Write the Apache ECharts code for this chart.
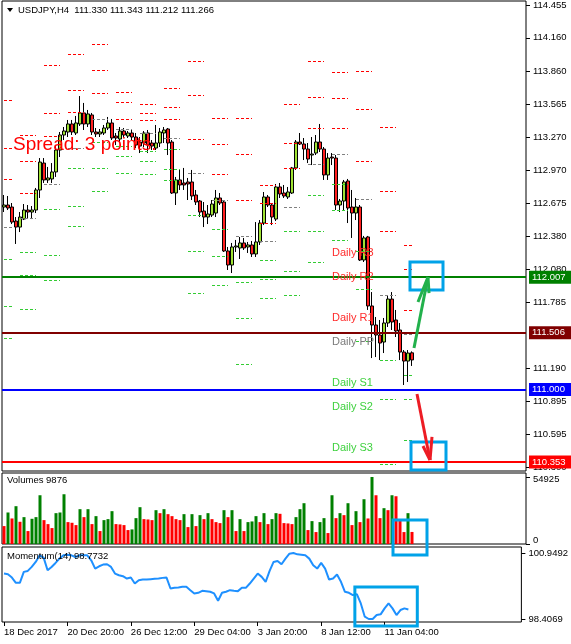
<!DOCTYPE html>
<html><head><meta charset="utf-8">
<script src="https://cdn.jsdelivr.net/npm/echarts@6/dist/echarts.min.js"></script>
<style>html,body{margin:0;padding:0;background:#fff}#c{width:571px;height:644px}</style>
</head><body><div id="c"></div><script>
// ---------------- DATA ----------------
const symbolTitle = 'USDJPY,H4';
const tickLabels = ['18 Dec 2017','20 Dec 20:00','26 Dec 12:00','29 Dec 04:00','3 Jan 20:00','8 Jan 12:00','11 Jan 04:00'];
const tickStep = 16;
const opens = [112.640,112.658,112.640,112.514,112.460,112.532,112.613,112.595,112.613,112.793,
113.035,112.883,112.892,112.955,113.152,113.287,113.314,113.386,113.305,113.386,
113.485,113.386,113.467,113.314,113.296,113.305,113.350,113.395,113.278,113.251,
113.323,113.278,113.305,113.269,113.224,113.215,113.305,113.215,113.170,113.215,
113.305,113.341,113.224,112.766,112.883,112.856,112.865,112.865,112.748,112.694,
112.604,112.550,112.568,112.586,112.721,112.685,112.245,112.119,112.281,112.272,
112.317,112.281,112.299,112.218,112.326,112.496,112.730,112.658,112.532,112.820,
112.766,112.730,112.766,112.991,113.224,113.206,113.161,113.107,113.125,113.224,
113.161,112.928,113.089,113.080,112.658,112.694,112.874,112.640,112.586,112.640,
112.164,112.371,111.751,111.580,111.490,111.427,111.598,111.813,111.625,111.535,
111.337,111.256,111.330];
const closes = [112.658,112.631,112.505,112.460,112.550,112.613,112.595,112.613,112.793,113.044,
112.883,112.901,112.955,113.152,113.287,113.323,113.386,113.314,113.395,113.485,
113.386,113.476,113.314,113.296,113.314,113.350,113.395,113.260,113.260,113.323,
113.287,113.305,113.269,113.197,113.188,113.305,113.197,113.188,113.215,113.314,
113.332,113.215,112.766,112.883,112.838,112.838,112.847,112.739,112.685,112.595,
112.550,112.577,112.667,112.721,112.676,112.245,112.119,112.281,112.290,112.317,
112.272,112.299,112.218,112.326,112.496,112.730,112.658,112.550,112.820,112.757,
112.739,112.775,112.991,113.224,113.206,113.161,113.071,113.116,113.224,113.161,
112.928,113.080,113.080,112.658,112.694,112.865,112.631,112.586,112.640,112.164,
112.362,111.751,111.580,111.490,111.418,111.598,111.813,111.607,111.526,111.337,
111.256,111.328,111.266];
const lows = [112.595,112.613,112.487,112.308,112.415,112.523,112.541,112.532,112.586,112.721,
112.856,112.856,112.856,112.910,113.089,113.242,113.269,113.287,113.287,113.368,
113.332,113.359,113.287,113.269,113.269,113.287,113.332,113.242,113.197,113.215,
113.269,113.260,113.242,113.170,113.125,113.179,113.125,113.152,113.152,113.179,
113.215,113.107,112.757,112.658,112.793,112.793,112.703,112.703,112.658,112.550,
112.460,112.487,112.550,112.550,112.658,112.236,112.074,112.047,112.236,112.173,
112.254,112.227,112.191,112.191,112.299,112.478,112.640,112.478,112.514,112.721,
112.721,112.712,112.757,112.973,113.197,113.062,113.035,113.017,113.107,113.134,
112.883,112.883,113.017,112.613,112.595,112.613,112.496,112.362,112.523,112.155,
112.146,111.715,111.283,111.292,111.265,111.328,111.562,111.535,111.472,111.265,
111.041,111.068,111.212];
const highs = [112.748,112.739,112.676,112.550,112.595,112.667,112.658,112.649,112.811,113.080,
113.080,113.000,113.035,113.197,113.314,113.359,113.422,113.422,113.458,113.637,
113.575,113.512,113.485,113.350,113.341,113.377,113.449,113.431,113.305,113.359,
113.350,113.323,113.332,113.305,113.269,113.323,113.332,113.242,113.377,113.350,
113.359,113.350,113.242,112.910,112.973,112.991,112.901,112.973,112.793,112.703,
112.685,112.658,112.703,112.793,112.766,112.703,112.281,112.317,112.344,112.371,
112.362,112.326,112.335,112.505,112.523,112.775,112.748,112.676,112.847,112.856,
112.838,112.820,113.000,113.242,113.305,113.260,113.215,113.269,113.287,113.386,
113.179,113.125,113.125,113.107,112.712,112.883,112.892,112.793,112.721,112.658,
112.380,112.380,111.876,111.652,111.625,111.643,111.849,111.876,111.715,111.598,
111.355,111.355,111.343];
const volumes = [14683,25831,20936,30997,18217,22024,10604,20664,22024,39969,
19577,16314,13051,25287,25831,40785,17945,17402,15498,28550,
22024,28550,16314,22840,10604,19577,20393,26918,16314,16042,
15498,11420,11964,21208,30181,20393,20121,19577,27734,25287,
28550,24471,22840,20393,19577,24471,13867,24471,14683,23655,
20393,25287,20393,17945,17130,27734,22024,27734,10604,20393,
10604,17945,18489,22840,17945,25287,16314,20393,25287,24743,
17130,16858,16314,22024,28550,33444,11420,18761,9788,17945,
21208,8973,39969,21208,25287,23655,33444,15498,26918,17945,
36707,20936,54925,39969,21208,29365,27734,39969,39154,20121,
9788,25287,9876];
const momentum = [100.157,100.132,100.004,99.799,99.799,100.221,100.259,100.413,100.604,100.860,
100.770,100.285,100.413,100.566,100.732,100.860,100.885,100.860,100.796,100.860,
100.860,100.860,100.668,100.349,100.438,100.502,100.515,100.413,100.157,100.093,
100.055,99.966,100.004,99.774,99.902,99.927,99.927,99.940,99.953,99.966,
99.991,100.004,99.582,99.608,99.621,99.646,99.646,99.518,99.391,99.416,
99.493,99.480,99.455,99.391,99.110,99.416,99.455,99.518,99.493,99.480,
99.608,99.608,99.774,99.966,100.157,100.029,99.838,100.259,100.604,100.643,
100.515,100.732,100.924,100.949,100.898,100.885,100.860,100.732,100.477,100.349,
100.566,100.349,99.927,99.966,100.119,99.838,99.455,99.416,99.327,99.365,
99.007,98.496,98.407,98.407,98.560,98.586,98.816,99.007,98.816,98.560,
98.752,98.816,98.7732];
const priceTicks = [114.455,114.160,113.860,113.565,113.270,112.970,112.675,112.380,112.080,111.785,111.190,110.895,110.595,110.300];
const volumeTicks = [54925, 0];
const momentumTicks = [100.9492, 98.4069];
// daily pivot levels, one value per day (first entry = day before the first full day)
const pivR3 = [113.602,113.287,113.916,114.015,114.105,113.673,113.566,113.709,113.952,113.440,113.440,112.838,113.566,113.952,113.853,113.862,113.359,112.299];
const pivR2 = [113.170,113.053,113.485,113.691,113.871,113.584,113.485,113.539,113.646,113.206,113.116,112.676,113.215,113.628,113.619,113.521,112.784,112.083];
const pivR1 = [112.892,112.766,113.278,113.494,113.664,113.431,113.422,113.431,113.251,112.937,112.703,112.496,112.991,113.350,113.350,113.053,112.424,111.715];
const pivPP = [112.460,112.541,112.847,113.170,113.431,113.341,113.305,113.260,112.946,112.703,112.380,112.335,112.640,113.026,113.116,112.712,111.849,111.499];
const pivS1 = [112.173,112.236,112.622,112.991,113.224,113.188,113.143,113.161,112.568,112.442,111.966,112.164,112.424,112.748,112.847,112.245,111.265,111.131];
const pivS2 = [111.751,112.029,112.209,112.649,112.991,113.098,113.053,112.982,112.245,112.200,111.643,111.993,112.065,112.424,112.613,111.903,110.915,110.915];
const pivS3 = [111.463,111.724,111.984,112.469,112.784,112.946,112.937,112.883,111.867,111.939,111.229,111.822,111.849,112.146,112.344,111.436,110.331,110.547];
const pivotNames = ['Daily R3','Daily R2','Daily R1','Daily PP','Daily S1','Daily S2','Daily S3'];
const levelLines = [112.007, 111.506, 111.000, 110.353];
const spreadText = 'Spread: 3 points.';
// annotation anchors (bar index, value)
const boxes = [
  {grid:0, x0:101.5, x1:109.75, y0:112.146, y1:111.894},
  {grid:0, x0:101.75, x1:110.5, y0:110.529, y1:110.277},
  {grid:1, x0:97.25, x1:105.75, y0:19675, y1:-9018},
  {grid:2, x0:88.5, x1:104.25, y0:99.6395, y1:98.1372}
];
const arrows = [
  {tail:[102.5,111.373], head:[106,112.011], barbs:[[103.5,111.787],[106.25,111.867]], color:'#22b14c'},
  {tail:[103.25,110.960], head:[106.5,110.367], barbs:[[104.75,110.493],[107,110.574]], color:'#ed1c24'}
];

// ---------------- STYLE / LAYOUT ----------------
const FONT = '"Liberation Sans", Arial, sans-serif';
const FS = 9.5;
const SLOTS = 131;
const priceMin = 110.2682, priceMax = 114.4909;
const volMax = 58204;
const momMin = 98.2913, momMax = 101.1803;
const pivotFirstBar = -2, barsPerDay = 6, pivotLen = 4, pivotLabelBar = 82;
const pivotColors = ['#ff0000','#ff0000','#ff0000','#808080','#33cc33','#33cc33','#33cc33'];
const pivotTextColors = ['#ff2b2b','#ff2b2b','#ff2b2b','#7a7a7a','#3fd13f','#3fd13f','#3fd13f'];
const levelColors = ['#008000','#800000','#0000ff','#ff0000'];
const boxColor = '#00a2e8';

const lastBar = opens.length - 1;
const cats = Array.from({length: SLOTS}, (_, i) => String(i));
const pivotLevels = [pivR3, pivR2, pivR1, pivPP, pivS1, pivS2, pivS3];
const pivotData = [];
pivotLevels.forEach((arr, l) => arr.forEach((v, k) => {
  const start = pivotFirstBar + k * barsPerDay;
  const s = Math.max(0, start), e = Math.min(start + pivotLen, lastBar);
  if (e > s) pivotData.push([s, e, v, l]);
}));
const pivotLabelData = pivotLevels.map((arr, l) => [pivotLabelBar, arr[arr.length - 1], l]);

const chart = echarts.init(document.getElementById('c'), null, {renderer: 'canvas'});

function xAxisFor(g) {
  return {
    type: 'category', gridIndex: g, data: cats, boundaryGap: true, show: g === 2,
    axisLine: {show: false}, splitLine: {show: false},
    axisTick: {show: g === 2, alignWithLabel: true, length: 4, lineStyle: {color: '#000'},
      interval: (i) => i % tickStep === 0 && i / tickStep < tickLabels.length},
    axisLabel: {show: g === 2, align: 'left', margin: 5, color: '#000', fontSize: FS, fontFamily: FONT,
      interval: (i) => i % tickStep === 0 && i / tickStep < tickLabels.length,
      formatter: (v, i) => tickLabels[i / tickStep] || ''}
  };
}
function yAxisFor(g, min, max, ticks, fmt, extra) {
  return Object.assign({
    type: 'value', gridIndex: g, position: 'right', min, max,
    axisLine: {show: false}, splitLine: {show: false},
    axisTick: {show: true, customValues: ticks, length: 4, lineStyle: {color: '#000'}},
    axisLabel: {customValues: ticks, formatter: fmt, color: '#000', fontSize: FS, fontFamily: FONT, margin: 7}
  }, extra || {});
}

const volYAxis = yAxisFor(1, 0, volMax, volumeTicks, (v) => v === 0 ? '{z|0}' : String(v));
volYAxis.axisLabel.rich = {z: {padding: [0, 0, 12, 0], fontSize: FS, fontFamily: FONT, color: '#000'}};
volYAxis.axisLabel.padding = [4, 0, 0, 0];

const markData = levelLines.map((v, i) => ({
  yAxis: v,
  lineStyle: {color: levelColors[i], width: 2, type: 'solid'},
  label: {show: true, position: 'end', distance: 3, formatter: () => v.toFixed(3),
    backgroundColor: levelColors[i], color: '#fff', padding: [2, 7, 1, 3], fontSize: FS, fontFamily: FONT}
}));
markData.push({
  yAxis: closes[lastBar],
  lineStyle: {opacity: 0, width: 0},
  label: {show: true, position: 'end', distance: 3, formatter: () => closes[lastBar].toFixed(3),
    backgroundColor: '#000', color: '#fff', padding: [2, 7, 1, 3], fontSize: FS, fontFamily: FONT}
});

const option = {
  animation: false,
  backgroundColor: '#fff',
  textStyle: {fontFamily: FONT},
  grid: [
    {left: 2, top: 1, width: 524, height: 470, show: true, borderColor: '#000', borderWidth: 1},
    {left: 2, top: 473, width: 524, height: 71, show: true, borderColor: '#000', borderWidth: 1},
    {left: 2, top: 547, width: 524, height: 75, show: true, borderColor: '#000', borderWidth: 1}
  ],
  xAxis: [xAxisFor(0), xAxisFor(1), xAxisFor(2)],
  yAxis: [
    yAxisFor(0, priceMin, priceMax, priceTicks, (v) => v.toFixed(3)),
    volYAxis,
    yAxisFor(2, momMin, momMax, momentumTicks, (v) => v.toFixed(4))
  ],
  series: [
    {
      type: 'candlestick', xAxisIndex: 0, yAxisIndex: 0, barWidth: 3, z: 2,
      data: opens.map((o, i) => [o, closes[i], lows[i], highs[i]]),
      itemStyle: {color: '#9fe234', color0: '#ff1f1f', borderColor: '#000', borderColor0: '#000', borderWidth: 1},
      markLine: {silent: true, symbol: ['none', 'none'], animation: false, z: 4, data: markData}
    },
    {
      type: 'custom', xAxisIndex: 0, yAxisIndex: 0, z: 3, silent: true, clip: true,
      data: pivotData, encode: {x: 0, y: 2},
      renderItem: (params, api) => {
        const v = api.value(2), l = api.value(3);
        const p1 = api.coord([api.value(0), v]);
        const p2 = api.coord([api.value(1), v]);
        const y = Math.round(p1[1]) + 0.5;
        return {type: 'line', shape: {x1: Math.round(p1[0]), y1: y, x2: Math.round(p2[0]), y2: y},
          style: {stroke: pivotColors[l], lineWidth: 1, lineDash: [3, 2]}};
      }
    },
    {
      type: 'custom', xAxisIndex: 0, yAxisIndex: 0, z: 6, silent: true,
      data: pivotLabelData, encode: {x: 0, y: 1},
      renderItem: (params, api) => {
        const p = api.coord([api.value(0), api.value(1)]);
        const l = api.value(2);
        return {type: 'text', x: Math.round(p[0]), y: Math.round(p[1]) + 2,
          style: {text: pivotNames[l], fill: pivotTextColors[l], font: '11px ' + FONT, verticalAlign: 'top', align: 'left'}};
      }
    },
    {
      type: 'bar', xAxisIndex: 1, yAxisIndex: 1, barWidth: 3,
      data: volumes.map((v, i) => ({value: v, itemStyle: {color: (i > 0 && v > volumes[i - 1]) ? '#008000' : '#ff0000'}}))
    },
    {
      type: 'line', xAxisIndex: 2, yAxisIndex: 2, data: momentum, showSymbol: false, symbol: 'none',
      lineStyle: {color: '#1e90ff', width: 2}
    }
  ]
};
chart.setOption(option);

function px(gridIndex, xi, val) {
  const i0 = Math.floor(xi), f = xi - i0;
  const a = chart.convertToPixel({gridIndex: gridIndex}, [i0, val]);
  const b = chart.convertToPixel({gridIndex: gridIndex}, [i0 + 1, val]);
  return [a[0] + (b[0] - a[0]) * f, a[1]];
}
const g = [];
boxes.forEach(b => {
  const p0 = px(b.grid, b.x0, b.y0), p1 = px(b.grid, b.x1, b.y1);
  g.push({type: 'rect', z: 100, shape: {x: p0[0], y: p0[1], width: p1[0] - p0[0], height: p1[1] - p0[1]},
    style: {fill: 'none', stroke: boxColor, lineWidth: 3}});
});
arrows.forEach(a => {
  const t = px(0, a.tail[0], a.tail[1]), h = px(0, a.head[0], a.head[1]);
  g.push({type: 'polyline', z: 100, shape: {points: [t, h]}, style: {stroke: a.color, lineWidth: 3, fill: 'none'}});
  a.barbs.forEach(bb => {
    const q = px(0, bb[0], bb[1]);
    g.push({type: 'polyline', z: 100, shape: {points: [q, h]}, style: {stroke: a.color, lineWidth: 3, fill: 'none'}});
  });
});
// header, indicator titles and spread note
g.push({type: 'polygon', z: 100, shape: {points: [[7, 8], [13, 8], [10, 12]]}, style: {fill: '#000'}});
g.push({type: 'text', z: 100, x: 18, y: 10, style: {text: symbolTitle + '  ' + [opens[lastBar], highs[lastBar], lows[lastBar], closes[lastBar]].map(v => v.toFixed(3)).join(' '),
  fill: '#000', font: FS + 'px ' + FONT, verticalAlign: 'middle'}});
g.push({type: 'text', z: 100, x: 7, y: 480, style: {text: 'Volumes ' + volumes[lastBar], fill: '#000', font: FS + 'px ' + FONT, verticalAlign: 'middle'}});
g.push({type: 'text', z: 100, x: 7, y: 556, style: {text: 'Momentum(14) ' + momentum[lastBar].toFixed(4), fill: '#000', font: FS + 'px ' + FONT, verticalAlign: 'middle'}});
g.push({type: 'text', z: 100, x: 13, y: 145, style: {text: spreadText, fill: '#ff0000', font: '19px ' + FONT, verticalAlign: 'middle'}});
chart.setOption({graphic: g});
</script></body></html>
